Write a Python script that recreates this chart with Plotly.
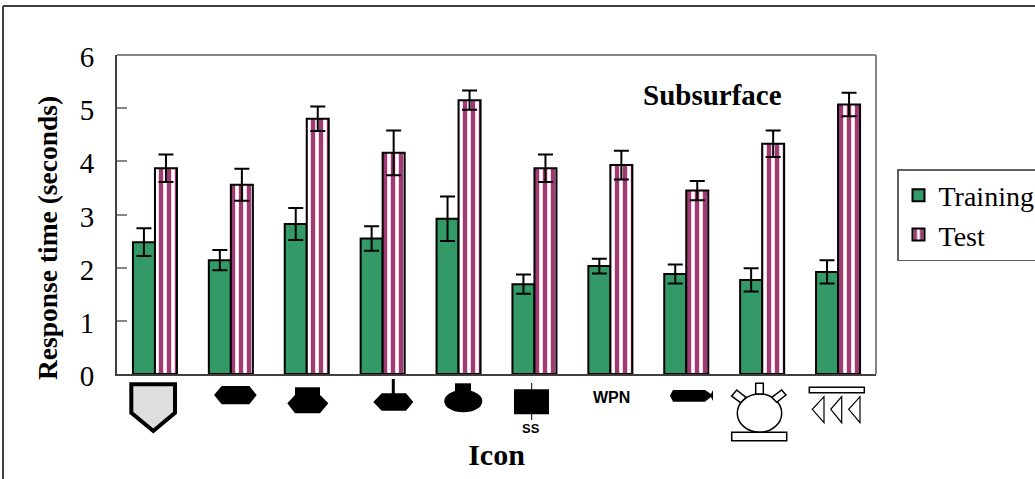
import plotly.graph_objects as go

W, H = 1035, 479
L, R, T, B = 117, 876, 55, 374

icons = ["a", "b", "c", "d", "e", "f", "g", "h", "i", "j"]
training = [2.48, 2.14, 2.82, 2.55, 2.92, 1.69, 2.03, 1.88, 1.77, 1.92]
training_err = [0.26, 0.19, 0.30, 0.23, 0.42, 0.18, 0.14, 0.18, 0.22, 0.22]
test = [3.87, 3.56, 4.80, 4.16, 5.15, 3.87, 3.93, 3.45, 4.33, 5.07]
test_err = [0.26, 0.30, 0.23, 0.42, 0.18, 0.26, 0.27, 0.18, 0.25, 0.22]
y_ticks = [0, 1, 2, 3, 4, 5, 6]

SERIF = "Liberation Serif"
GREEN = "#339966"
PLUM = "#a03a72"


def px(x):
    return (x - L) / (R - L)


def py(y):
    return (B - y) / (B - T)


def poly(points):
    return "M" + " L".join(f"{px(x):.5f},{py(y):.5f}" for x, y in points) + " Z"


def path(points, fill="black", lw=0, color="black"):
    return dict(type="path", xref="paper", yref="paper", path=poly(points), fillcolor=fill,
                line=dict(color=color, width=lw), layer="above")


def rect(x0, y0, x1, y1, fill="black", lw=0, color="black"):
    return dict(type="rect", xref="paper", yref="paper", x0=px(x0), y0=py(y0), x1=px(x1), y1=py(y1),
                fillcolor=fill, line=dict(color=color, width=lw), layer="above")


def oval(x0, y0, x1, y1, fill="black", lw=0, color="black"):
    return dict(type="circle", xref="paper", yref="paper", x0=px(x0), y0=py(y0), x1=px(x1), y1=py(y1),
                fillcolor=fill, line=dict(color=color, width=lw), layer="above")


def seg(x0, y0, x1, y1, color="black", lw=1):
    return dict(type="line", xref="paper", yref="paper", x0=px(x0), y0=py(y0), x1=px(x1), y1=py(y1),
                line=dict(color=color, width=lw), layer="above")


shapes = [
    # outer frame
    seg(3, 6, 1035, 6, "#404040", 2), seg(3, 6, 3, 479, "#404040", 2),
    # plot frame, top and right
    seg(L, T, R, T, "#858585", 2), seg(R, T, R, B, "#858585", 2),
    # icon 1: shield
    path([(131.3, 384.3), (175, 384.3), (175, 412.7), (153.3, 431), (131.3, 412.7)], "#dedede", 4),
    # icon 2
    path([(221.7, 386), (249.3, 386), (256.7, 395), (249.3, 404.3), (221.7, 404.3), (214, 395)]),
    # icon 3
    path([(295, 387.3), (320, 387.3), (320, 395), (328.3, 403.3), (320, 413.3), (295, 413.3), (287.3, 403.3), (295, 395)]),
    # icon 4
    seg(393.3, 379, 393.3, 394, "black", 3),
    path([(381.7, 393.3), (406, 393.3), (413.3, 402), (406, 410.7), (381.7, 410.7), (373.3, 402)]),
    # icon 5
    rect(455, 383.3, 471, 392), oval(444.3, 390, 482.3, 412.3),
    # icon 6
    rect(514, 389.3, 549, 414.3), seg(531.7, 383, 531.7, 420, "black", 1),
    # icon 8
    path([(670, 395.5), (673, 390), (705, 390), (711, 394), (713, 390), (713, 401), (711, 397), (705, 401.7), (673, 401.7)]),
    # icon 9
    oval(737.3, 394, 781.7, 432.3, "white", 1.5),
    rect(731.7, 432.3, 786.7, 440.7, "white", 1.5),
    rect(755.7, 383.3, 763.3, 394, "white", 1.5),
    path([(731.7, 396), (736.7, 390), (746, 397.3), (740.7, 402.7)], "white", 1.5),
    path([(786, 395), (781.7, 390), (771.7, 397.3), (776.7, 402.3)], "white", 1.5),
    # icon 10
    rect(809.3, 387.3, 864.3, 392.7, "white", 1.5),
    path([(824, 396.7), (824, 422.7), (812.3, 409.3)], "white", 1.2),
    path([(841.7, 396.7), (841.7, 422.7), (830.7, 409.3)], "white", 1.2),
    path([(860, 396.7), (860, 422.7), (848.7, 409.3)], "white", 1.2),
]


def label(text, x, y, size, family="Liberation Sans", angle=0):
    return dict(text=text, xref="paper", yref="paper", x=px(x), y=py(y), showarrow=False, textangle=angle,
                xanchor="center", yanchor="middle", font=dict(family=family, size=size, color="black"))


annotations = [
    label("<b>Subsurface</b>", 712, 95, 29, SERIF),
    label("<b>Response time (seconds)</b>", 47, 238, 27.5, SERIF, -90),
    label("<b>SS</b>", 531, 428, 13),
    label("<b>WPN</b>", 611, 397, 16),
]

err_style = dict(type="data", color="black", thickness=2, width=7.5)

fig = go.Figure()
fig.add_bar(name="Training", x=icons, y=training, error_y=dict(array=training_err, **err_style),
            marker=dict(color=GREEN, line=dict(color="black", width=2)))
fig.add_bar(name="Test", x=icons, y=test, error_y=dict(array=test_err, **err_style),
            marker=dict(color="white", line=dict(color="black", width=2),
                        pattern=dict(shape="|", fgcolor=PLUM, bgcolor="white", size=8, solidity=0.55, fillmode="replace")))

fig.update_layout(
    width=W, height=H, autosize=False,
    margin=dict(l=L, r=W - R, t=T, b=H - B, pad=0, autoexpand=False),
    paper_bgcolor="white", plot_bgcolor="white",
    barmode="group", bargap=0.42, bargroupgap=0,
    font=dict(family=SERIF, color="black"),
    shapes=shapes, annotations=annotations,
    legend=dict(x=px(897), y=py(169), xanchor="left", yanchor="top",
                bgcolor="white", bordercolor="#606060", borderwidth=1.5,
                font=dict(family=SERIF, size=28, color="black")),
)
fig.update_xaxes(showticklabels=False, ticks="", showgrid=False, zeroline=False, showline=True,
                 linecolor="#404040", linewidth=2,
                 title=dict(text="<b>Icon</b>", font=dict(family=SERIF, size=30), standoff=69))
fig.update_yaxes(range=[0, 6], tickvals=y_ticks, ticks="inside", ticklen=10, tickwidth=2, tickcolor="#858585",
                 showgrid=False, zeroline=False, showline=True, linecolor="#404040", linewidth=2,
                 ticklabelstandoff=15, ticklabelshift=2, tickfont=dict(family=SERIF, size=29))

fig.write_html("out.html", config=dict(displayModeBar=False),
               post_script="document.body.style.margin='0';document.body.style.overflow='hidden';")
